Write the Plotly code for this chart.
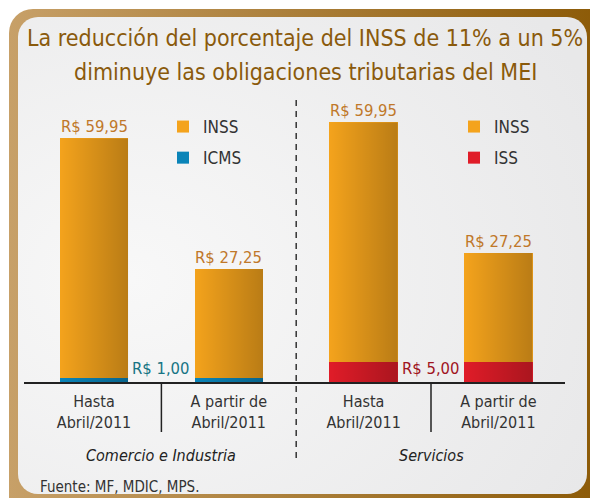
import base64
import plotly.graph_objects as go

# ---------------- data ----------------
periods = ["Hasta<br>Abril/2011", "A partir de<br>Abril/2011"]
sectors = ["Comercio e Industria", "Servicios"]
x_pos = [0, 1, 2, 3]
inss_comercio = [59.95, 27.25]
icms_comercio = [1.00, 1.00]
inss_servicios = [59.95, 27.25]
iss_servicios = [5.00, 5.00]
title_lines = ["La reducción del porcentaje del INSS de 11% a un 5%",
               "diminuye las obligaciones tributarias del MEI"]
source_text = "Fuente: MF, MDIC, MPS."

FONT = "DejaVu Sans Condensed, Liberation Sans Narrow, Roboto, sans-serif"
C_INSS = "#f4a31c"
C_ICMS = "#0a84b8"
C_ISS = "#e01c28"
C_LBL_INSS = "#c0782a"
C_LBL_ICMS = "#177484"
C_LBL_ISS = "#a0141e"
C_TEXT = "#333333"
C_TITLE = "#8a5a0c"
BAR_W = 0.508

W, H = 590, 498


def money(v):
    return "R$ " + f"{v:.2f}".replace(".", ",")


def py(pix):  # pixel from top -> paper y
    return (H - pix) / H


def svg_uri(svg):
    return "data:image/svg+xml;base64," + base64.b64encode(svg.encode()).decode()


fig = go.Figure()
fig.add_trace(go.Bar(x=x_pos[:2], y=icms_comercio, name="ICMS", marker_color=C_ICMS,
                     legend="legend", legendrank=2, legendgroup="icms", hoverinfo="skip"))
fig.add_trace(go.Bar(x=x_pos[:2], y=inss_comercio, name="INSS", marker_color=C_INSS,
                     legend="legend", legendrank=1, legendgroup="inss1", hoverinfo="skip"))
fig.add_trace(go.Bar(x=x_pos[2:], y=iss_servicios, name="ISS", marker_color=C_ISS,
                     legend="legend2", legendrank=2, legendgroup="iss", hoverinfo="skip"))
fig.add_trace(go.Bar(x=x_pos[2:], y=inss_servicios, name="INSS", marker_color=C_INSS,
                     legend="legend2", legendrank=1, legendgroup="inss2", hoverinfo="skip"))
fig.update_traces(width=BAR_W, marker_line_width=0)

# value labels above the stacks
totals = [a + b for a, b in zip(inss_comercio, icms_comercio)] + \
         [a + b for a, b in zip(inss_servicios, iss_servicios)]
inss_all = inss_comercio + inss_servicios
for xi, tot, v in zip(x_pos, totals, inss_all):
    fig.add_annotation(x=xi, y=tot, text=money(v), showarrow=False, yanchor="bottom",
                       yshift=0, font=dict(family=FONT, size=16.5, color=C_LBL_INSS))
fig.add_annotation(x=0.5, y=0, text=money(icms_comercio[0]), showarrow=False, yanchor="bottom",
                   yshift=2, font=dict(family=FONT, size=16.5, color=C_LBL_ICMS))
fig.add_annotation(x=2.5, y=0, text=money(iss_servicios[0]), showarrow=False, yanchor="bottom",
                   yshift=2, font=dict(family=FONT, size=16.5, color=C_LBL_ISS))

# horizontal shading over each stacked bar (positioned from the data)
shade = svg_uri(
    '<svg xmlns="http://www.w3.org/2000/svg" width="100" height="100" viewBox="0 0 100 100" '
    'preserveAspectRatio="none"><defs><linearGradient id="s" x1="0" x2="1" y1="0" y2="0">'
    '<stop offset="0" stop-color="#000" stop-opacity="0"/>'
    '<stop offset="1" stop-color="#000" stop-opacity="0.24"/></linearGradient></defs>'
    '<rect x="0" y="0" width="100" height="100" fill="url(#s)"/></svg>')
for xi, tot in zip(x_pos, totals):
    fig.add_layout_image(source=shade, xref="x", yref="y", x=xi - BAR_W / 2, y=tot,
                         sizex=BAR_W, sizey=tot, xanchor="left", yanchor="top",
                         sizing="stretch", layer="above")

# title
for yy, line in zip([38, 72], title_lines):
    fig.add_annotation(x=305 / W, xref="paper", xanchor="center", y=py(yy), yref="paper",
                       yanchor="middle", text=line, showarrow=False,
                       font=dict(family=FONT, size=23, color=C_TITLE))

# sector labels
for xs, s in zip([0.5, 2.5], sectors):
    fig.add_annotation(x=xs, xref="x", xanchor="center", y=py(455), yref="paper",
                       yanchor="middle", text="<i>" + s + "</i>",
                       showarrow=False, font=dict(family=FONT, size=16, color="#222"))
fig.add_annotation(x=38 / W, xref="paper", xanchor="left", y=py(487), yref="paper",
                   yanchor="middle", text=source_text, showarrow=False,
                   font=dict(family=FONT, size=15, color=C_TEXT))

# separators
for xs in [0.5, 2.5]:
    fig.add_shape(type="line", x0=xs, x1=xs, xref="x", y0=py(382), y1=py(432), yref="paper",
                  line=dict(color="#222", width=1.5))
fig.add_shape(type="line", x0=1.5, x1=1.5, xref="x", y0=py(100), y1=py(462), yref="paper",
              line=dict(color="#333", width=1.5, dash="6px,5px"))

# frame background (decorative)
frame = svg_uri(
    f'<svg xmlns="http://www.w3.org/2000/svg" width="{W}" height="{H}" viewBox="0 0 {W} {H}">'
    '<defs><linearGradient id="g" x1="0" x2="1" y1="0" y2="0">'
    '<stop offset="0" stop-color="#c7a068"/><stop offset="1" stop-color="#8a5804"/></linearGradient>'
    '<radialGradient id="r" cx="0.2" cy="0.55" r="0.9">'
    '<stop offset="0" stop-color="#f8f8f8"/><stop offset="1" stop-color="#e8e8e9"/></radialGradient></defs>'
    '<rect x="9" y="9" width="610" height="520" rx="24" fill="url(#g)"/>'
    '<rect x="18" y="17" width="569" height="477" rx="20" fill="url(#r)"/></svg>'
)
fig.add_layout_image(source=frame, xref="paper", yref="paper", x=0, y=1, sizex=1, sizey=1,
                     xanchor="left", yanchor="top", sizing="stretch", layer="below")

x0_pix, x1_pix, cstep, c0 = 24, 565, 134.8, 94
fig.update_layout(
    width=W, height=H, margin=dict(l=0, r=0, t=0, b=0, autoexpand=False),
    paper_bgcolor="white", plot_bgcolor="rgba(0,0,0,0)",
    barmode="stack", bargap=0,
    xaxis=dict(domain=[x0_pix / W, x1_pix / W],
               range=[(x0_pix - c0) / cstep, (x1_pix - c0) / cstep],
               tickvals=x_pos, ticktext=periods * 2, showgrid=False, zeroline=False,
               showline=True, linecolor="#222", linewidth=1.5, ticks="outside",
               ticklen=4, tickcolor="rgba(0,0,0,0)",
               tickfont=dict(family=FONT, size=16, color=C_TEXT), fixedrange=True),
    yaxis=dict(domain=[py(382), py(100)], range=[0, (382 - 100) / 4.0], visible=False,
               fixedrange=True),
    legend=dict(x=163 / W, y=py(109), xanchor="left", yanchor="top",
                bgcolor="rgba(0,0,0,0)", font=dict(family=FONT, size=17, color=C_TEXT),
                tracegroupgap=6, itemwidth=30),
    legend2=dict(x=454 / W, y=py(109), xanchor="left", yanchor="top",
                 bgcolor="rgba(0,0,0,0)", font=dict(family=FONT, size=17, color=C_TEXT),
                 tracegroupgap=6, itemwidth=30),
    showlegend=True,
)

fig.write_html("out.html", config={"displayModeBar": False},
               post_script="document.body.style.margin='0';document.body.style.padding='0';"
                           "document.documentElement.style.overflow='hidden';")
